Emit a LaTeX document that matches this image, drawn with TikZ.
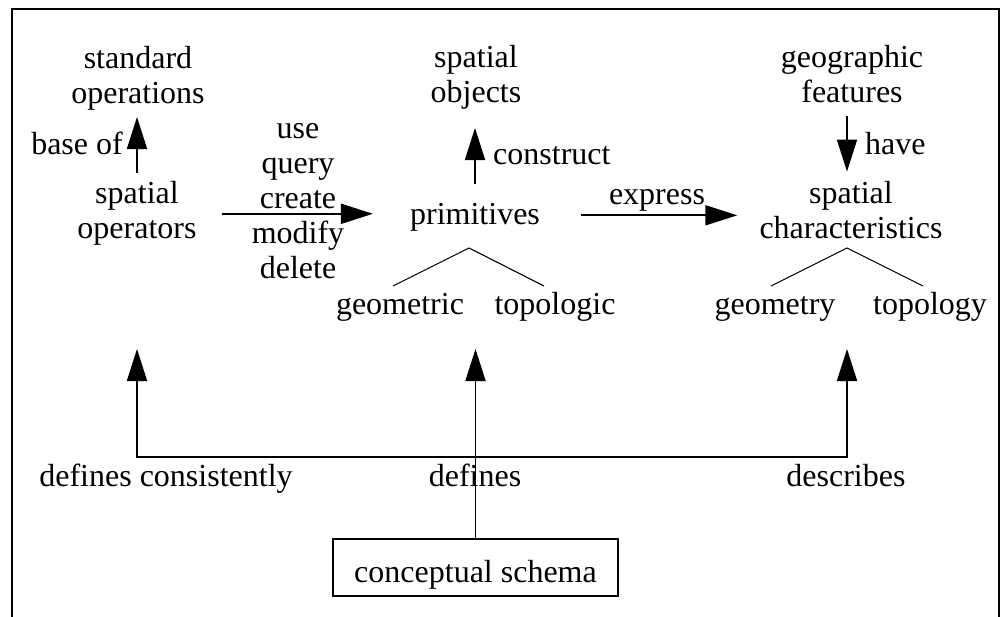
\documentclass[tikz,border=0pt]{standalone}
\usepackage{fontspec}
\setmainfont{Liberation Serif}
\usetikzlibrary{arrows.meta}
\begin{document}
\begin{tikzpicture}[x=1pt,y=-1pt,
  lbl/.style={font=\fontsize{32}{35}\selectfont, inner sep=0pt, align=center, anchor=base},
  arr/.style={line width=1.8pt, -{Triangle[length=32pt,width=20pt]}},
  twig/.style={line width=1.1pt},
  frameline/.style={line width=2pt}]
\useasboundingbox (0,0) rectangle (1001,617);
% open frame round the figure
\draw[frameline] (12,617) -- (12,9) -- (999,9) -- (999,617);

% text nodes (a multi-line node sits on the baseline of its last line)
\node[lbl] (std) at (138,104) {standard\\operations};
\node[lbl] (spop) at (137,239) {spatial\\operators};
\node[lbl, anchor=base east] (baseof) at (123,155) {base of};
\node[lbl] (ops) at (298,279) {use\\query\\create\\modify\\delete};
\node[lbl] (spobj) at (476,103) {spatial\\objects};
\node[lbl, anchor=base west] (constr) at (493,165) {construct};
\node[lbl] (prim) at (475,225) {primitives};
\node[lbl] (geomc) at (400,315) {geometric};
\node[lbl] (topoc) at (555,315) {topologic};
\node[lbl] (expr) at (657,205) {express};
\node[lbl] (geo) at (852,103) {geographic\\features};
\node[lbl, anchor=base west] (have) at (865,155) {have};
\node[lbl] (spchar) at (851,239) {spatial\\characteristics};
\node[lbl] (geomy) at (775,315) {geometry};
\node[lbl] (topoy) at (930,315) {topology};
\node[lbl] (dc) at (166,486) {defines consistently};
\node[lbl] (def) at (475,486) {defines};
\node[lbl] (desc) at (846,486) {describes};
\node[lbl, draw, line width=2pt, text height=43pt, text depth=14pt,
      minimum width=285pt] (schema) at (475.5,582) {conceptual schema};

% branch points of the two small trees
\coordinate (papex) at (469,248);
\coordinate (pleft) at (393,286);
\coordinate (pright) at (544,286);
\coordinate (capex) at (847,248);
\coordinate (cleft) at (771,286);
\coordinate (cright) at (923,286);

% ends of the long arrows from the schema
\coordinate (tipL) at (137,349);
\coordinate (tipR) at (847,349);
\coordinate (busL) at (137,457);
\coordinate (busR) at (847,457);

% connectors in the upper part
\draw[arr, shorten <=9pt, shorten >=6pt] (spop.north) -- (spop.north |- std.south);
\draw[arr, shorten <=25pt, shorten >=37pt] (spop.east) -- (spop.east -| prim.west);
\draw[arr, shorten <=20pt, shorten >=18pt] (prim.north) -- (prim.north |- spobj.south);
\draw[arr, shorten <=41pt, shorten >=22pt, transform canvas={yshift=2.5pt}]
  (prim.east) -- (prim.east -| spchar.west);
\draw[arr, shorten <=12pt, shorten >=10pt] (geo.south -| capex) -- (spchar.north -| capex);

% trees
\draw[twig] (pleft) -- (papex) -- (pright);
\draw[twig] (cleft) -- (capex) -- (cright);

% connectors from the conceptual schema
\draw[line width=1.8pt, {Triangle[length=32pt,width=20pt]}-{Triangle[length=32pt,width=20pt]}]
  (tipL) -- (busL) -- (busR) -- (tipR);
\draw[arr] (schema.north) -- (schema.north |- tipL);
\end{tikzpicture}
\end{document}
